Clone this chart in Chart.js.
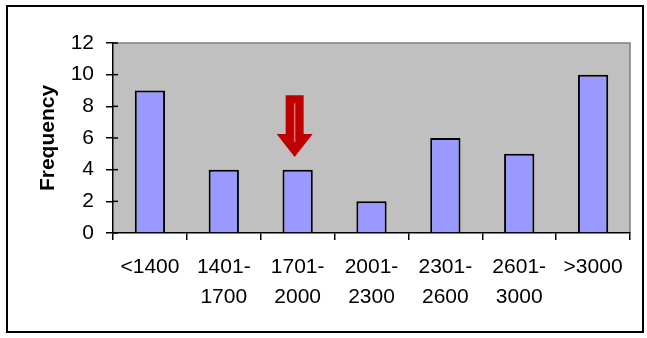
<!DOCTYPE html>
<html>
<head>
<meta charset="utf-8">
<script src="https://cdn.jsdelivr.net/npm/chart.js@4/dist/chart.umd.min.js"></script>
<style>
html,body{margin:0;padding:0;background:#fff;}
#wrap{width:647px;height:338px;position:relative;}
</style>
</head>
<body>
<div id="wrap"><canvas id="c" width="647" height="338"></canvas></div>
<script>
const categories = [["<1400"], ["1401-", "1700"], ["1701-", "2000"], ["2001-", "2300"], ["2301-", "2600"], ["2601-", "3000"], [">3000"]];
const frequency = [9, 4, 4, 2, 6, 5, 10];
const yTicks = [0, 2, 4, 6, 8, 10, 12];
const arrowCategory = 2;
const arrowTop = 8.7, arrowHeadBase = 6.25, arrowTip = 4.8;

const FONT = "'Liberation Sans', Arial, sans-serif";

const decor = {
  id: 'decor',
  beforeDraw(chart) {
    const {ctx, chartArea: a} = chart;
    ctx.save();
    ctx.fillStyle = '#fff';
    ctx.fillRect(0, 0, chart.width, chart.height);
    ctx.strokeStyle = '#000';
    ctx.lineWidth = 2;
    ctx.strokeRect(7, 6, 636, 326);
    ctx.fillStyle = '#C0C0C0';
    ctx.fillRect(a.left, a.top, a.right - a.left, a.bottom - a.top);
    ctx.strokeStyle = '#808080';
    ctx.lineWidth = 1.5;
    ctx.beginPath();
    ctx.moveTo(a.left, a.top);
    ctx.lineTo(a.right, a.top);
    ctx.lineTo(a.right, a.bottom);
    ctx.stroke();
    ctx.restore();
  },
  afterDraw(chart) {
    const {ctx, scales: {x, y}, chartArea: a} = chart;
    ctx.save();
    ctx.strokeStyle = '#000';
    ctx.lineWidth = 1.5;
    yTicks.forEach(v => {
      const py = y.getPixelForValue(v);
      ctx.beginPath();
      ctx.moveTo(a.left, py);
      ctx.lineTo(a.left + 5, py);
      ctx.stroke();
    });
    const cx = x.getPixelForValue(arrowCategory) - 3;
    const t = y.getPixelForValue(arrowTop);
    const hb = y.getPixelForValue(arrowHeadBase);
    const tip = y.getPixelForValue(arrowTip);
    const sw = 9, hw = 18;
    ctx.fillStyle = '#C00000';
    ctx.beginPath();
    ctx.moveTo(cx - sw, t);
    ctx.lineTo(cx + sw, t);
    ctx.lineTo(cx + sw, hb);
    ctx.lineTo(cx + hw, hb);
    ctx.lineTo(cx, tip);
    ctx.lineTo(cx - hw, hb);
    ctx.lineTo(cx - sw, hb);
    ctx.closePath();
    ctx.fill();
    ctx.strokeStyle = '#E07070';
    ctx.lineWidth = 1.5;
    ctx.beginPath();
    ctx.moveTo(cx, t + 8);
    ctx.lineTo(cx, hb + 8);
    ctx.stroke();
    ctx.restore();
  }
};

new Chart(document.getElementById('c'), {
  type: 'bar',
  data: {
    labels: categories,
    datasets: [{
      data: frequency,
      backgroundColor: '#9999FF',
      borderColor: '#000',
      borderWidth: 2,
      borderSkipped: 'start',
      categoryPercentage: 1,
      barPercentage: 0.41
    }]
  },
  options: {
    responsive: false,
    animation: false,
    devicePixelRatio: 1,
    layout: {padding: {left: 36, top: 43, right: 17, bottom: 0}},
    plugins: {legend: {display: false}, tooltip: {enabled: false}},
    scales: {
      x: {
        offset: true,
        grid: {display: true, drawOnChartArea: false, drawTicks: true, tickLength: 7, color: '#000', lineWidth: 1.5, offset: true},
        border: {display: true, color: '#000', width: 1.5},
        ticks: {color: '#000', font: {family: FONT, size: 21, lineHeight: 1.45}, padding: 12, maxRotation: 0, autoSkip: false},
        afterFit(s) { s.height = 338 - 233; }
      },
      y: {
        min: 0, max: 12,
        afterBuildTicks(s) { s.ticks = yTicks.map(v => ({value: v})); },
        grid: {display: true, drawOnChartArea: false, drawTicks: true, tickLength: 7, color: '#000', lineWidth: 1.5},
        border: {display: true, color: '#000', width: 1.5},
        ticks: {color: '#000', font: {family: FONT, size: 21}, padding: 12},
        title: {display: true, text: 'Frequency', color: '#000', font: {family: FONT, size: 21, weight: 'bold'}, padding: 0},
        afterFit(s) { s.width = 113 - 36; }
      }
    }
  },
  plugins: [decor]
});
</script>
</body>
</html>
